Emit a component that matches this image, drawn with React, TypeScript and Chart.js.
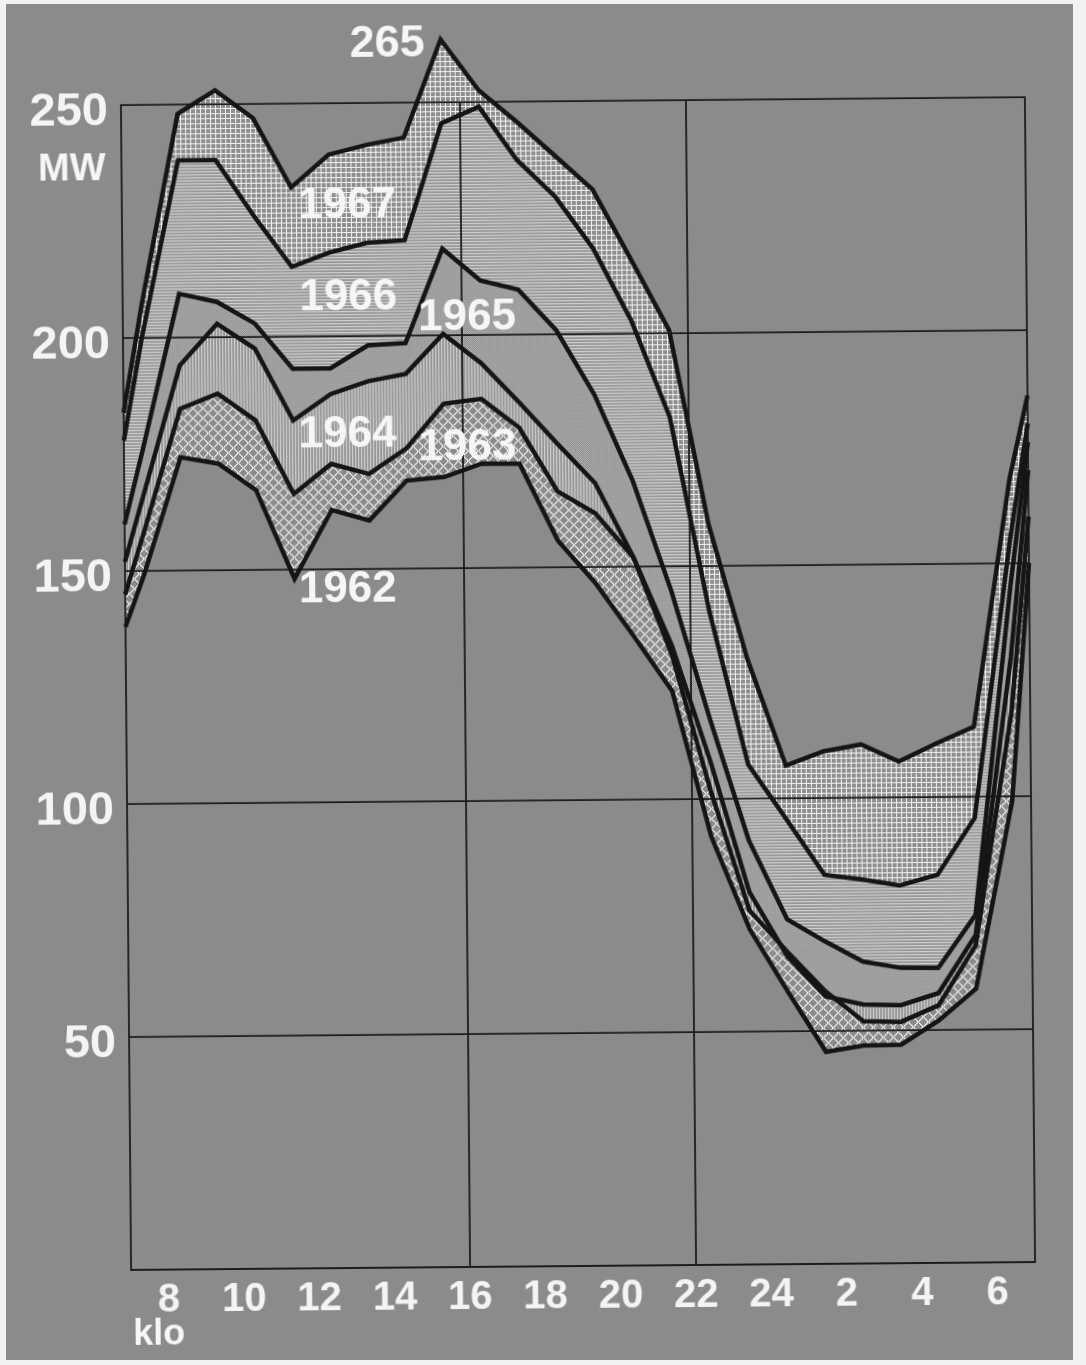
import React, { useEffect, useRef } from 'react';
import { Chart, registerables } from 'chart.js';

Chart.register(...registerables);

// hour of day (7 = 07:00, 31 = 07:00 next morning); hourly values plotted at mid-hour
const hours = [7, 7.5, 8.5, 9.5, 10.5, 11.5, 12.5, 13.5, 14.5, 15.5, 16.5, 17.5, 18.5, 19.5, 20.5, 21.5, 22.5, 23.5, 24.5, 25.5, 26.5, 27.5, 28.5, 29.5, 30.5, 31];

const years = ['1962', '1963', '1964', '1965', '1966', '1967'];

const load1962 = [138, 149, 174.3, 172.9, 167.1, 148, 162.7, 160.4, 168.9, 169.6, 172.4, 172.3, 155.7, 146.4, 135, 123.2, 92, 72, 58.5, 45.5, 46.8, 46.9, 52, 58.8, 99, 150];
const load1963 = [145, 158, 184.7, 187.9, 182.1, 166.2, 172.6, 170.4, 175.8, 185.3, 186.3, 180, 166.3, 161.5, 152, 131, 101.7, 76, 67, 58.5, 52, 51.8, 55.3, 68.1, 118, 160];
const load1964 = [152, 166, 194, 202.9, 197.5, 182, 187.6, 190.3, 191.8, 200.3, 194, 185.5, 176.6, 168, 152, 133, 108, 80, 66, 57.4, 55.6, 55.4, 57.9, 70.3, 130, 170];
const load1965 = [160, 176, 209.4, 207.6, 202.9, 193.1, 193.1, 198, 198.4, 218.6, 211.7, 209.7, 200.9, 187, 168.4, 144.7, 117, 91, 74, 69.2, 64.8, 63.4, 63.3, 74.6, 145, 176];
const load1966 = [178, 200, 238, 238, 226, 215, 218, 220, 220.5, 245.5, 249, 237.5, 229.6, 218.4, 202.8, 182, 140.4, 107.3, 95.5, 83.5, 82.4, 81.1, 83.3, 95.4, 155, 180];
const load1967 = [184, 207, 248, 253, 247, 232, 239, 241, 242.5, 263.5, 252.5, 245.7, 238.4, 231, 216, 200.7, 159, 130, 107, 110, 111.4, 107.7, 111.5, 115, 168, 186];

const xTickValues = [8, 10, 12, 14, 16, 18, 20, 22, 24, 26, 28, 30];
const xTickLabels = ['8', '10', '12', '14', '16', '18', '20', '22', '24', '2', '4', '6'];
const yTickValues = [50, 100, 150, 200, 250];
const gridHours = [16, 22];
const peakLabel = '265';
const unitLabel = 'MW';
const timeLabel = 'klo';

const FONT = '"Liberation Sans", Arial, Helvetica, sans-serif';

function makePattern(ctx: CanvasRenderingContext2D, w: number, h: number, draw: (g: CanvasRenderingContext2D) => void) {
  const c = document.createElement('canvas');
  c.width = w;
  c.height = h;
  const g = c.getContext('2d')!;
  draw(g);
  return ctx.createPattern(c, 'repeat');
}

export default function App() {
  const ref = useRef<HTMLCanvasElement>(null);

  useEffect(() => {
    const canvas = ref.current!;
    const ctx = canvas.getContext('2d')!;

    const crossHatch = makePattern(ctx, 10, 10, (g) => {
      g.fillStyle = '#8b8b8b';
      g.fillRect(0, 0, 10, 10);
      g.fillStyle = '#f2f2f2';
      for (let i = 0; i < 10; i++) {
        g.fillRect(i, i, 1, 1);
        g.fillRect(9 - i, i, 1, 1);
      }
      g.fillStyle = '#c4c4c4';
      for (let i = 0; i < 10; i++) {
        g.fillRect((i + 1) % 10, i, 1, 1);
        g.fillRect((10 - i) % 10, i, 1, 1);
      }
    });
    const vStripes = makePattern(ctx, 3, 3, (g) => {
      g.fillStyle = '#a2a2a2';
      g.fillRect(0, 0, 3, 3);
      g.fillStyle = '#cdcdcd';
      g.fillRect(0, 0, 1, 3);
      g.fillStyle = '#959595';
      g.fillRect(2, 0, 1, 3);
    });
    const dots = makePattern(ctx, 2, 2, (g) => {
      g.fillStyle = '#939393';
      g.fillRect(0, 0, 2, 2);
      g.fillStyle = '#b3b3b3';
      g.fillRect(0, 0, 1, 1);
      g.fillStyle = '#a2a2a2';
      g.fillRect(1, 1, 1, 1);
    });
    const hStripes = makePattern(ctx, 3, 3, (g) => {
      g.fillStyle = '#a4a4a4';
      g.fillRect(0, 0, 3, 3);
      g.fillStyle = '#cfcfcf';
      g.fillRect(0, 0, 3, 1);
      g.fillStyle = '#979797';
      g.fillRect(0, 2, 3, 1);
    });
    const squareGrid = makePattern(ctx, 5, 5, (g) => {
      g.fillStyle = '#8e8e8e';
      g.fillRect(0, 0, 5, 5);
      g.fillStyle = '#f0f0f0';
      g.fillRect(0, 0, 5, 1);
      g.fillRect(0, 0, 1, 5);
    });

    const series = [load1962, load1963, load1964, load1965, load1966, load1967];
    const fills = [null, crossHatch, vStripes, dots, hStripes, squareGrid];

    // label placements (hour, MW)
    const yearPlacements = [
      { text: years[5], h: 12.98, v: 227.9 },
      { text: years[4], h: 12.99, v: 208.3 },
      { text: years[3], h: 16.14, v: 203.8 },
      { text: years[2], h: 12.94, v: 178.8 },
      { text: years[1], h: 16.12, v: 175.8 },
      { text: years[0], h: 12.91, v: 145.5 },
    ];

    const framePlugin = {
      id: 'framePlugin',
      beforeDatasetsDraw(chart: any) {
        const c = chart.ctx as CanvasRenderingContext2D;
        const xs = chart.scales.x;
        const ys = chart.scales.y;
        const x0 = xs.getPixelForValue(7);
        const x1 = xs.getPixelForValue(31);
        const yb = ys.getPixelForValue(0);
        const yt = ys.getPixelForValue(250);
        c.save();
        c.strokeStyle = '#1c1c1c';
        c.lineWidth = 1.8;
        c.beginPath();
        c.rect(x0, yt, x1 - x0, yb - yt);
        for (const v of yTickValues) {
          const py = ys.getPixelForValue(v);
          c.moveTo(x0, py);
          c.lineTo(x1, py);
        }
        for (const h of gridHours) {
          const px = xs.getPixelForValue(h);
          c.moveTo(px, yt);
          c.lineTo(px, yb);
        }
        c.stroke();
        c.restore();
      },
      afterDatasetsDraw(chart: any) {
        const c = chart.ctx as CanvasRenderingContext2D;
        const xs = chart.scales.x;
        const ys = chart.scales.y;
        c.save();
        c.fillStyle = '#f6f6f6';
        c.textAlign = 'center';
        c.textBaseline = 'middle';
        c.font = `bold 44px ${FONT}`;
        for (const p of yearPlacements) {
          c.fillText(p.text, xs.getPixelForValue(p.h), ys.getPixelForValue(p.v));
        }
        c.font = `bold 45px ${FONT}`;
        c.fillText(peakLabel, xs.getPixelForValue(14.08), ys.getPixelForValue(262.6));
        c.font = `bold 38px ${FONT}`;
        c.fillText(unitLabel, xs.getPixelForValue(5.68), ys.getPixelForValue(236.1));
        c.font = `bold 36px ${FONT}`;
        c.fillText(timeLabel, xs.getPixelForValue(7.73), ys.getPixelForValue(-14));
        c.restore();
      },
    };

    const chart = new Chart(canvas, {
      type: 'line',
      data: {
        datasets: series.map((vals, i) => ({
          label: years[i],
          data: hours.map((h, j) => ({ x: h, y: vals[j] })),
          borderColor: '#151515',
          borderWidth: 4.5,
          pointRadius: 0,
          tension: 0,
          fill: i === 0 ? false : '-1',
          backgroundColor: (fills[i] as any) || 'transparent',
          clip: false as any,
        })),
      },
      options: {
        responsive: false,
        animation: false,
        devicePixelRatio: 1,
        layout: { padding: { top: 8, right: 56, left: 0, bottom: 0 } },
        plugins: {
          legend: { display: false },
          tooltip: { enabled: false },
          filler: { drawTime: 'beforeDatasetsDraw', propagate: false } as any,
        },
        scales: {
          x: {
            type: 'linear',
            min: 7,
            max: 31,
            grid: { display: false, drawTicks: false, tickLength: 0 },
            border: { display: false },
            afterBuildTicks: (axis: any) => {
              axis.ticks = xTickValues.map((v) => ({ value: v }));
            },
            afterFit: (axis: any) => {
              axis.height = 99;
              axis.paddingLeft = 0;
              axis.paddingRight = 0;
            },
            ticks: {
              autoSkip: false,
              maxRotation: 0,
              minRotation: 0,
              padding: 7,
              color: '#f4f4f4',
              font: { family: FONT, size: 40, weight: 'bold' },
              callback: (_v: any, i: number) => xTickLabels[i],
            },
          },
          y: {
            type: 'linear',
            min: 0,
            max: 270,
            grid: { display: false, drawTicks: false, tickLength: 0 },
            border: { display: false },
            afterBuildTicks: (axis: any) => {
              axis.ticks = yTickValues.map((v) => ({ value: v }));
            },
            afterFit: (axis: any) => {
              axis.width = 126;
              axis.paddingTop = 0;
              axis.paddingBottom = 0;
            },
            ticks: {
              padding: 13,
              labelOffset: 7,
              color: '#f4f4f4',
              font: { family: FONT, size: 47, weight: 'bold' },
              callback: (v: any) => String(v),
            },
          },
        },
      },
      plugins: [framePlugin],
    });

    return () => chart.destroy();
  }, []);

  return (
    <div style={{ position: 'absolute', left: 0, top: 0, width: 1086, height: 1365, background: '#f2f2f2', overflow: 'hidden' }}>
      <div style={{ position: 'absolute', left: 6, top: 4, width: 1067, height: 1356, background: '#8b8b8b' }} />
      <canvas
        ref={ref}
        width={1086}
        height={1365}
        style={{
          position: 'absolute',
          left: 0,
          top: 0,
          width: 1086,
          height: 1365,
          transform: 'rotate(-0.5deg)',
          transformOrigin: '578px 684px',
        }}
      />
    </div>
  );
}
